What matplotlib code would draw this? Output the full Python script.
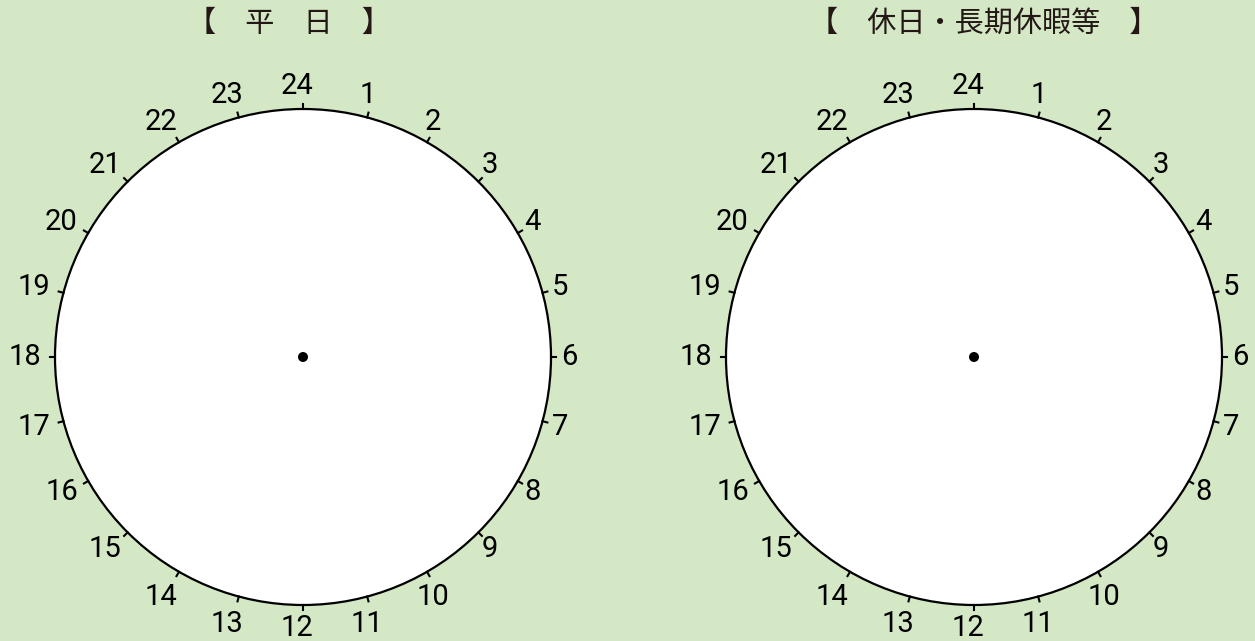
import matplotlib.pyplot as plt
import numpy as np
from matplotlib.patches import Circle
from matplotlib import font_manager

plt.rcParams['font.family'] = ['Noto Sans CJK JP', 'DejaVu Sans']

# chart content
titles = ['【　平　日　】', '【　休日・長期休暇等　】']
title_x = [289, 984]
centers = [303, 974]
hours = list(range(1, 25))
hour_labels = [str(h) for h in hours]

bg = '#d5e8c6'
ink = '#231815'

names = {f.name for f in font_manager.fontManager.ttflist}
num_font = 'Liberation Sans Narrow' if 'Liberation Sans Narrow' in names else 'Roboto'

W, H = 1255, 641
fig = plt.figure(figsize=(W / 100, H / 100), dpi=100, facecolor=bg)
ax = fig.add_axes([0, 0, 1, 1])
ax.set_xlim(0, W)
ax.set_ylim(H, 0)
ax.set_facecolor(bg)
ax.axis('off')

R = 248
cy = 357
for cx, title, tx in zip(centers, titles, title_x):
    ax.add_patch(Circle((cx, cy), R, facecolor='white', edgecolor='black', lw=1.6, zorder=2))
    ax.add_patch(Circle((cx, cy), 5, facecolor='black', edgecolor='none', zorder=3))
    for h, lab in zip(hours, hour_labels):
        a = np.deg2rad(90 - h * 15)
        dx, dy = np.cos(a), -np.sin(a)
        ax.plot([cx + R * dx, cx + (R + 5) * dx], [cy + R * dy, cy + (R + 5) * dy],
                color='black', lw=1.5, zorder=3)
        # labels near the bottom (except 12) sit a little lower in the original
        ybump = 5 if 0.8 < dy < 0.99 else 0
        ax.text(cx + 272 * dx - 6, cy + 271 * dy + ybump, lab, ha='center', va='center',
                fontsize=21, color='black', family=[num_font, 'DejaVu Sans'])
    ax.text(tx, 24, title, ha='center', va='center', fontsize=21, color=ink)

fig.savefig('out.png', dpi=100, facecolor=bg)
